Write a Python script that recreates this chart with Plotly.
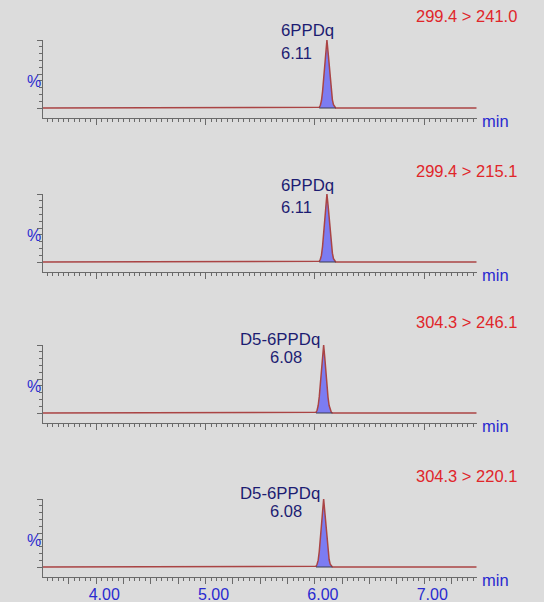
import plotly.graph_objects as go

W, H = 544, 602

# ---------------- data ----------------
transitions = ["299.4 > 241.0", "299.4 > 215.1", "304.3 > 246.1", "304.3 > 220.1"]
compound_names = ["6PPDq", "6PPDq", "D5-6PPDq", "D5-6PPDq"]
retention_times = [6.11, 6.11, 6.08, 6.08]
rt_labels = ["6.11", "6.11", "6.08", "6.08"]

time_6ppdq = [3.51, 6.03, 6.04, 6.05, 6.06, 6.07, 6.08, 6.09, 6.10, 6.11,
              6.12, 6.13, 6.14, 6.15, 6.16, 6.17, 6.18, 6.19, 7.48]
int_241 = [0, 0, 1, 4, 11, 24, 42, 63, 84, 100, 83, 62, 42, 25, 12, 5, 2, 0, 0]
int_215 = [0, 0, 1, 4, 10, 23, 41, 62, 84, 100, 84, 63, 43, 26, 13, 5, 2, 0, 0]

time_d5 = [3.51, 6.00, 6.01, 6.02, 6.03, 6.04, 6.05, 6.06, 6.07, 6.08,
           6.09, 6.10, 6.11, 6.12, 6.13, 6.14, 6.15, 6.16, 7.48]
int_246 = [0, 0, 1, 4, 11, 24, 42, 63, 84, 100, 82, 60, 40, 23, 11, 4, 1, 0, 0]
int_220 = [0, 0, 1, 4, 10, 23, 41, 62, 84, 100, 82, 61, 41, 24, 11, 4, 1, 0, 0]

peak_start = [6.04, 6.04, 6.01, 6.01]
peak_end = [6.19, 6.19, 6.16, 6.16]

x_tick_vals = [3.75, 4.00, 4.25, 4.50, 4.75, 5.00, 5.25, 5.50, 5.75, 6.00,
               6.25, 6.50, 6.75, 7.00, 7.25]
x_tick_text = ["", "4.00", "", "", "", "5.00", "", "", "", "6.00",
               "", "", "", "7.00", ""]
y_tick_vals = [0, 50, 100]
y_minor_vals = [10, 20, 30, 40, 60, 70, 80, 90]

series_t = [time_6ppdq, time_6ppdq, time_d5, time_d5]
series_i = [int_241, int_215, int_246, int_220]

# ---------------- layout helpers ----------------
FONT = "Arial, Liberation Sans, sans-serif"
BG = "#dcdcdc"
AXIS_C = "#6a6a6a"
LINE_C = "#aa4444"
FILL_C = "#7c7cf2"
NAVY = "#1c1c72"
BLUE = "#2a2ad0"
RED = "#e0262a"


def px_x(p):
    return p / W


def px_y(p):
    return 1 - p / H


panel_tops = [40, 194, 345, 499]   # pixel y of the 100% tick
X_LEFT, X_RIGHT = 42.7, 476.7
Y_RANGE = [-14.7, 100.5]

fig = go.Figure()
annotations = []
layout_axes = {}

for k in range(4):
    n = k + 1
    xa = "x" if n == 1 else f"x{n}"
    ya = "y" if n == 1 else f"y{n}"
    yt = panel_tops[k]
    top_px = yt - 0.34
    bot_px = yt + 78

    fig.add_trace(go.Scatter(
        x=series_t[k], y=series_i[k], mode="lines",
        line=dict(color=LINE_C, width=1.5), fill="tozeroy", fillcolor=FILL_C,
        xaxis=xa, yaxis=ya, hoverinfo="skip", showlegend=False))
    fig.add_trace(go.Scatter(
        x=[peak_start[k], peak_end[k]], y=[0, 0], mode="lines",
        line=dict(color="#3a3a50", width=1.0),
        xaxis=xa, yaxis=ya, hoverinfo="skip", showlegend=False))
    fig.add_trace(go.Scatter(
        x=[retention_times[k]], y=[104], mode="markers",
        marker=dict(symbol="line-ew", size=7,
                    line=dict(color=NAVY, width=1.2)),
        cliponaxis=False,
        xaxis=xa, yaxis=ya, hoverinfo="skip", showlegend=False))

    last = (k == 3)
    layout_axes["xaxis" if n == 1 else f"xaxis{n}"] = dict(
        domain=[px_x(X_LEFT), px_x(X_RIGHT)],
        range=[3.51, 7.48], anchor=ya, automargin=False,
        showline=True, linecolor=AXIS_C, linewidth=1,
        showgrid=False, zeroline=False,
        tickmode="array", tickvals=x_tick_vals, ticktext=x_tick_text,
        ticks="outside", ticklen=6, tickwidth=1, tickcolor=AXIS_C,
        minor=dict(dtick=0.05, tick0=3.5, ticks="outside", ticklen=3,
                   tickwidth=1, tickcolor=AXIS_C, showgrid=False),
        showticklabels=last,
        ticklabelshift=8, ticklabelstandoff=-3,
        tickfont=dict(family=FONT, size=16, color=BLUE),
        fixedrange=True,
    )
    layout_axes["yaxis" if n == 1 else f"yaxis{n}"] = dict(
        domain=[px_y(bot_px), px_y(top_px)],
        range=Y_RANGE, anchor=xa, automargin=False,
        showline=True, linecolor=AXIS_C, linewidth=1,
        showgrid=False, zeroline=False,
        tickmode="array", tickvals=y_tick_vals,
        ticks="outside", ticklen=5, tickwidth=1, tickcolor=AXIS_C,
        minor=dict(tickvals=y_minor_vals, ticks="outside", ticklen=3,
                   tickwidth=1, tickcolor=AXIS_C, showgrid=False),
        showticklabels=False, fixedrange=True,
    )

    # transition title (red, right)
    annotations.append(dict(
        text=transitions[k], xref="paper", yref="paper",
        x=px_x(518.5), y=px_y(yt - 23.5), xanchor="right", yanchor="middle",
        showarrow=False, font=dict(family=FONT, size=16.5, color=RED)))
    # percentage label
    annotations.append(dict(
        text="%", xref="paper", yref="paper",
        x=px_x(33.5), y=px_y(yt + 41), xanchor="center", yanchor="middle",
        showarrow=False, font=dict(family=FONT, size=16, color=BLUE)))
    # min label
    annotations.append(dict(
        text="min", xref="paper", yref="paper",
        x=px_x(479.5), y=px_y(bot_px + 3), xanchor="left", yanchor="middle",
        showarrow=False, font=dict(family=FONT, size=16.5, color=BLUE)))
    # compound + rt labels
    if k < 2:
        name_x, name_dy, rt_x, rt_dy = 307, -9, 296, 13
    else:
        name_x, name_dy, rt_x, rt_dy = 280, -5.5, 286.3, 12
    annotations.append(dict(
        text=compound_names[k], xref="paper", yref="paper",
        x=px_x(name_x), y=px_y(yt + name_dy), xanchor="center", yanchor="middle",
        showarrow=False, font=dict(family=FONT, size=16.8, color=NAVY)))
    annotations.append(dict(
        text=rt_labels[k], xref="paper", yref="paper",
        x=px_x(rt_x), y=px_y(yt + rt_dy), xanchor="center", yanchor="middle",
        showarrow=False, font=dict(family=FONT, size=16.5, color=NAVY)))

fig.update_layout(
    width=W, height=H,
    margin=dict(l=0, r=0, t=0, b=0, autoexpand=False),
    paper_bgcolor=BG, plot_bgcolor=BG,
    showlegend=False,
    annotations=annotations,
    **layout_axes,
)

fig.write_html(
    "out.html",
    config={"displayModeBar": False},
    post_script="document.body.style.margin='0';document.body.style.overflow='hidden';"
                "document.body.style.background='" + BG + "';",
)
